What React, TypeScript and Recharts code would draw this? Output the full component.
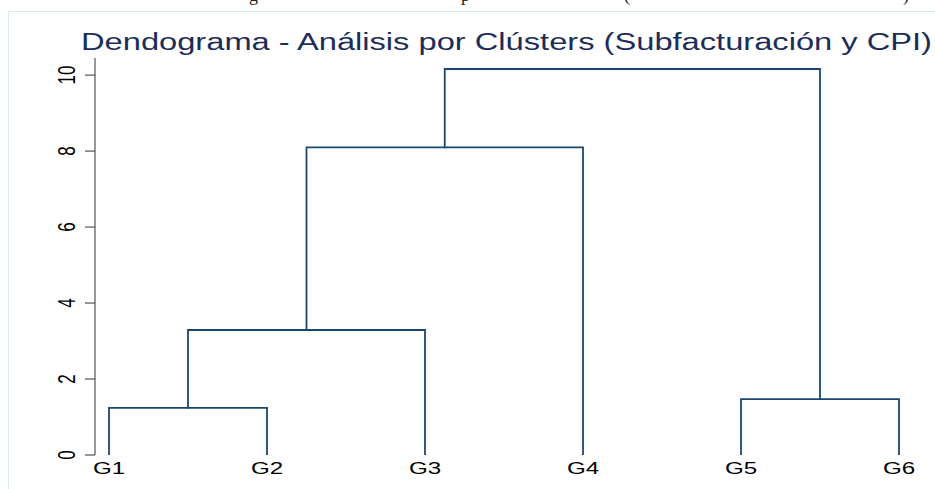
import { ComposedChart, Line, XAxis, YAxis } from "recharts";

// leaves and agglomeration steps (node ids: leaves 0-5, merge i -> node 6 + i)
const leaves = ["G1", "G2", "G3", "G4", "G5", "G6"];
const mergeA = [0, 4, 6, 8, 9];
const mergeB = [1, 5, 2, 3, 7];
const mergeHeight = [1.24, 1.47, 3.29, 8.1, 10.16];
const yTicks = [0, 2, 4, 6, 8, 10];

const FONT = "'Liberation Sans', Arial, sans-serif";
const NAVY = "#1a476f";
const STRETCH = 1.42;

function buildSegments() {
  const nx: number[] = leaves.map((_, i) => i + 1);
  const ny: number[] = leaves.map(() => 0);
  const segs: { x: number; y: number }[][] = [];
  mergeA.forEach((a, i) => {
    const b = mergeB[i];
    const h = mergeHeight[i];
    segs.push([
      { x: nx[a], y: ny[a] },
      { x: nx[a], y: h },
      { x: nx[b], y: h },
      { x: nx[b], y: ny[b] },
    ]);
    nx.push((nx[a] + nx[b]) / 2);
    ny.push(h);
  });
  return segs;
}

const segments = buildSegments();

function YTick({ x, y, payload }: any) {
  return (
    <g transform={`translate(${x - 8},${y})`}>
      <text
        transform={`scale(${STRETCH},1) rotate(-90)`}
        textAnchor="middle"
        fontFamily={FONT}
        fontSize={17}
        fill="#000"
      >
        {payload.value}
      </text>
    </g>
  );
}

function XTick({ x, y, payload }: any) {
  return (
    <g transform={`translate(${x},${y})`}>
      <text
        transform={`scale(${STRETCH},1)`}
        y={19}
        textAnchor="middle"
        fontFamily={FONT}
        fontSize={17}
        fill="#000"
      >
        {leaves[payload.value - 1]}
      </text>
    </g>
  );
}

export default function App() {
  return (
    <div style={{ position: "relative", width: 935, height: 489, background: "#fff", overflow: "hidden" }}>
      <style>{"body{margin:0}"}</style>
      {/* frame of the figure box */}
      <div
        style={{
          position: "absolute", left: 8, top: 11, width: 940, height: 490,
          borderLeft: "1px solid #dcebea", borderTop: "1px solid #dcebea",
        }}
      />
      <svg width={935} height={60} style={{ position: "absolute", left: 0, top: 0 }}>
        {/* caption above, cut off by the crop */}
        <g fontFamily="'Liberation Serif', 'Times New Roman', serif" fontSize={18} fill="#222">
          <text x={249} y={0.5}>g</text>
          <text x={461} y={0.5}>p</text>
          <text x={624} y={0.5}>(</text>
          <text x={903} y={0.5}>)</text>
        </g>
        <text
          x={81}
          y={50}
          fontFamily={FONT}
          fontSize={23}
          fill="#1c2d5a"
          textLength={851}
          lengthAdjust="spacingAndGlyphs"
        >
          Dendograma - Análisis por Clústers (Subfacturación y CPI)
        </text>
      </svg>
      <div style={{ position: "absolute", left: 0, top: 0 }}>
        <ComposedChart width={935} height={489} margin={{ top: 58, right: 22, bottom: 0, left: 0 }}>
          <XAxis
            type="number"
            dataKey="x"
            domain={[0.9114, 6.0886]}
            ticks={[1, 2, 3, 4, 5, 6]}
            allowDataOverflow
            axisLine={false}
            tickLine={false}
            tickSize={0}
            tickMargin={0}
            tick={<XTick />}
            height={34}
          />
          <YAxis
            type="number"
            dataKey="y"
            domain={[0, 10.45]}
            ticks={yTicks}
            allowDataOverflow
            width={95}
            tickSize={10}
            tickMargin={2}
            axisLine={{ stroke: "#333", strokeWidth: 1 }}
            tickLine={{ stroke: "#333", strokeWidth: 1 }}
            tick={<YTick />}
          />
          {segments.map((s, i) => (
            <Line
              key={i}
              data={s}
              dataKey="y"
              type="linear"
              stroke={NAVY}
              strokeWidth={1.8}
              strokeLinejoin="miter"
              strokeLinecap="square"
              dot={false}
              activeDot={false}
              isAnimationActive={false}
            />
          ))}
        </ComposedChart>
      </div>
    </div>
  );
}
